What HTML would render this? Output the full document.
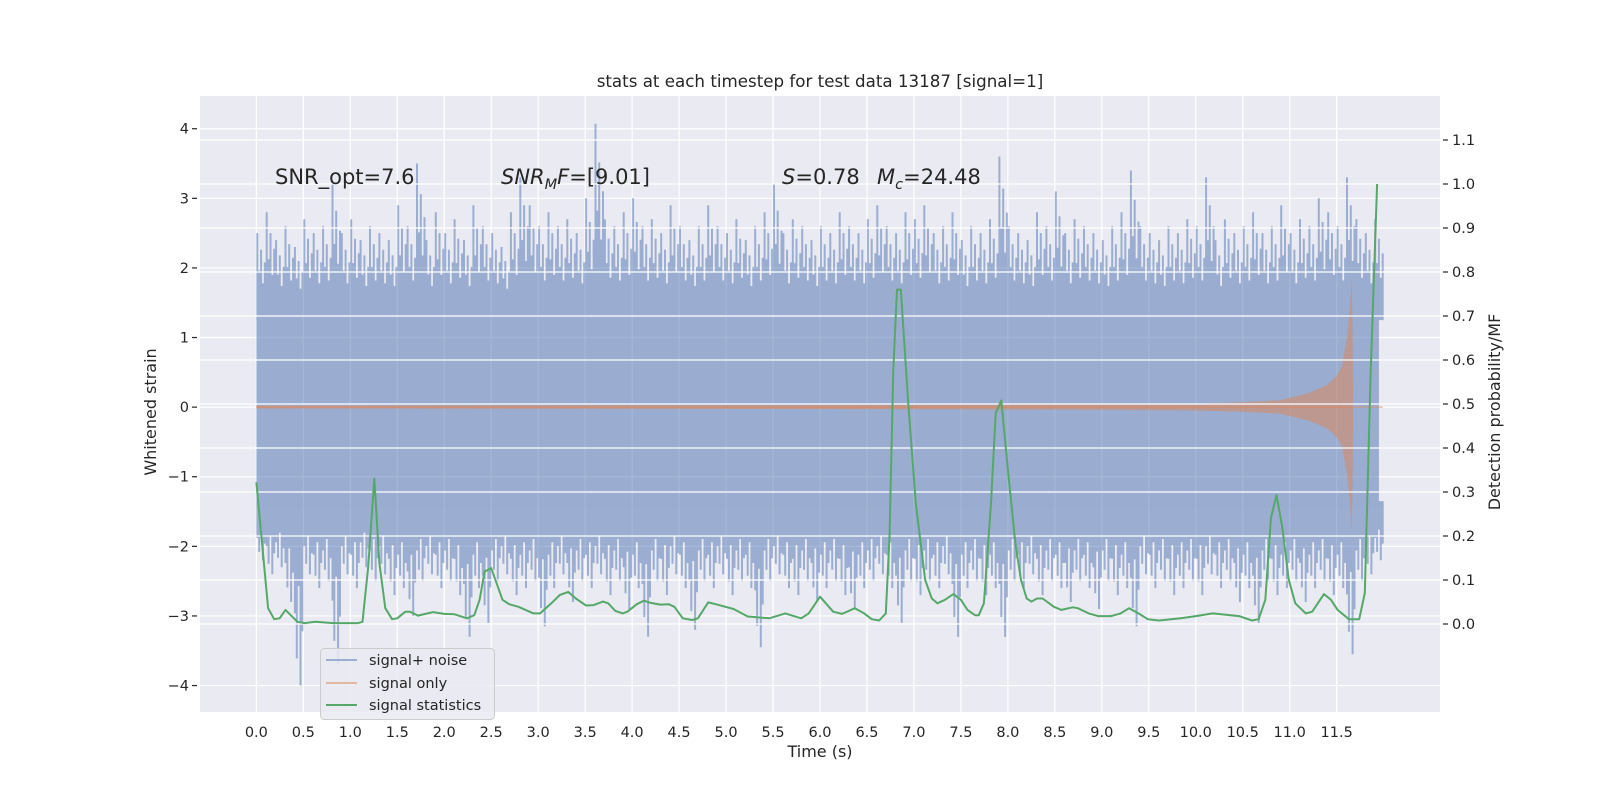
<!DOCTYPE html>
<html><head><meta charset="utf-8"><style>
body{margin:0;background:#fff;}
svg{display:block;font-family:"DejaVu Sans","Liberation Sans",sans-serif;}
</style></head><body>
<svg id="chart" width="1600" height="800" viewBox="0 0 1600 800" xmlns="http://www.w3.org/2000/svg">
<rect width="1600" height="800" fill="#ffffff"/>
<rect x="200" y="96" width="1240" height="616" fill="#eaeaf2"/>
<g id="gridL"></g>
<g id="noise" opacity="0.5"></g>
<g id="chirp"></g>
<g id="gridR"></g>
<g id="stats"></g>
<g id="axes"></g>
<text x="820" y="87" font-size="16.7" text-anchor="middle" fill="#262626">stats at each timestep for test data 13187 [signal=1]</text>
<text x="275" y="184" font-size="21" fill="#262626">SNR_opt=7.6</text>
<text x="501" y="184" font-size="21" fill="#262626"><tspan font-style="italic">SNR</tspan><tspan font-style="italic" font-size="14.5" dy="5">M</tspan><tspan font-style="italic" dy="-5">F</tspan>=[9.01]</text>
<text x="782" y="184" font-size="21" fill="#262626"><tspan font-style="italic">S</tspan>=0.78<tspan x="877" font-style="italic">M</tspan><tspan font-style="italic" font-size="14.5" dy="5">c</tspan><tspan dy="-5">=24.48</tspan></text>
<text x="820" y="757" font-size="16" text-anchor="middle" fill="#262626">Time (s)</text>
<text transform="translate(156,412) rotate(-90)" font-size="16" text-anchor="middle" fill="#262626">Whitened strain</text>
<text transform="translate(1500,412) rotate(-90)" font-size="16" text-anchor="middle" fill="#262626">Detection probability/MF</text>
<g>
<rect x="320.5" y="648.5" width="174" height="71" rx="4" fill="#eaeaf2" fill-opacity="0.85" stroke="#cccccc"/>
<line x1="326" y1="660" x2="357" y2="660" stroke="#4c72b0" stroke-opacity="0.5" stroke-width="2"/>
<text x="369" y="665" font-size="14.5" fill="#262626">signal+ noise</text>
<line x1="326" y1="683" x2="357" y2="683" stroke="#dd8452" stroke-opacity="0.5" stroke-width="2"/>
<text x="369" y="688" font-size="14.5" fill="#262626">signal only</text>
<line x1="326" y1="705" x2="357" y2="705" stroke="#55a868" stroke-width="2"/>
<text x="369" y="710" font-size="14.5" fill="#262626">signal statistics</text>
</g>
</svg>
<script>
const xTicks = [0,0.5,1,1.5,2,2.5,3,3.5,4,4.5,5,5.5,6,6.5,7,7.5,8,8.5,9,9.5,10,10.5,11,11.5];
const yLeftTicks = [-4,-3,-2,-1,0,1,2,3,4];
const yRightTicks = [0,0.1,0.2,0.3,0.4,0.5,0.6,0.7,0.8,0.9,1.0,1.1];
const noiseBinWidth = 0.1;
const noiseUpper = [2.5,2.8,2.4,2.6,2.3,2.7,2.5,2.6,3.2,2.5, 2.7,2.4,2.6,2.5,2.4,2.9,2.6,3.5,2.4,2.8, 2.5,2.7,2.4,2.9,2.6,2.5,2.3,2.8,3.3,2.9, 2.6,2.8,2.6,2.7,2.5,3.0,4.07,2.7,2.6,2.8, 3.0,2.6,2.7,2.5,2.9,2.6,2.4,2.6,2.9,2.6, 2.5,2.7,2.4,2.6,2.8,3.2,2.5,2.7,2.6,2.4, 2.6,2.5,2.8,2.6,2.5,2.7,2.9,2.6,2.5,2.8, 2.7,2.9,2.5,2.6,2.8,2.4,2.6,2.5,2.7,3.6, 2.6,2.5,2.4,2.8,2.6,3.1,2.5,2.7,2.6,2.5, 2.4,2.6,2.8,3.4,2.6,2.5,2.4,2.6,2.5,2.7, 2.6,3.3,2.4,2.7,2.5,2.6,2.8,2.5,2.6,2.9, 2.5,2.7,2.6,3.0,2.8,2.6,3.3,2.7,2.5,2.7];
const noiseLower = [-2.2,-2.4,-2.3,-2.8,-4.0,-2.4,-2.6,-2.5,-3.7,-2.4, -2.6,-2.3,-2.5,-2.4,-2.7,-2.6,-3.0,-2.5,-2.4,-2.6, -2.5,-2.7,-3.3,-2.6,-3.1,-2.5,-2.4,-2.7,-2.6,-2.5, -3.15,-2.6,-2.4,-2.8,-2.5,-2.6,-2.4,-2.7,-2.5,-2.9, -2.6,-3.3,-2.5,-2.7,-2.4,-2.6,-3.2,-2.5,-2.6,-2.4, -2.7,-2.5,-2.6,-3.45,-2.5,-2.4,-2.6,-2.7,-2.5,-2.8, -2.6,-2.5,-2.7,-2.9,-2.6,-2.5,-2.4,-2.6,-3.1,-2.5, -2.7,-2.5,-2.6,-2.4,-3.3,-2.6,-2.5,-2.7,-2.6,-3.3, -2.5,-2.6,-2.4,-2.7,-2.5,-2.6,-2.8,-2.5,-2.6,-2.9, -2.5,-2.7,-2.6,-3.15,-2.4,-2.6,-2.5,-2.7,-2.6,-2.5, -2.7,-2.4,-2.6,-2.5,-2.8,-2.6,-3.1,-2.5,-2.7,-2.6, -2.5,-2.8,-2.6,-2.5,-2.7,-2.6,-3.55,-2.5,-2.4,-2.2];
const noiseCoreHi = 1.3;
const noiseCoreLo = -1.4;
const chirpT = [0,3,6,8,9,10,10.5,10.9,11.2,11.4,11.5,11.56,11.61,11.64,11.66,11.67,11.675];
const chirpAmp = [0.02,0.025,0.03,0.035,0.04,0.05,0.07,0.1,0.2,0.32,0.45,0.6,1.0,1.4,1.85,1.2,0];
const statsT = [0,0.125,0.19,0.247,0.31,0.437,0.513,0.627,0.817,1.084,1.13,1.19,1.255,1.31,1.373,1.445,1.5,1.585,1.635,1.72,1.88,2.0,2.11,2.24,2.32,2.376,2.43,2.5,2.57,2.62,2.69,2.79,2.95,3.02,3.14,3.23,3.32,3.4,3.51,3.59,3.69,3.745,3.82,3.9,3.95,4.05,4.125,4.2,4.3,4.39,4.45,4.54,4.64,4.7,4.81,4.89,5.08,5.23,5.46,5.63,5.8,5.88,6.0,6.14,6.235,6.37,6.47,6.55,6.63,6.7,6.74,6.78,6.82,6.86,6.94,7.02,7.12,7.19,7.25,7.33,7.42,7.5,7.57,7.65,7.69,7.745,7.82,7.87,7.93,8.0,8.08,8.14,8.2,8.25,8.31,8.37,8.49,8.57,8.69,8.745,8.86,8.96,9.1,9.2,9.29,9.39,9.49,9.61,9.84,10.0,10.18,10.46,10.6,10.67,10.74,10.8,10.86,10.92,10.99,11.06,11.17,11.24,11.365,11.44,11.51,11.63,11.74,11.8,11.86,11.93];
const statsP = [0.322,0.036,0.011,0.013,0.032,0.005,0.002,0.005,0.002,0.002,0.005,0.13,0.331,0.138,0.036,0.011,0.013,0.028,0.028,0.019,0.027,0.023,0.022,0.013,0.02,0.055,0.119,0.127,0.085,0.055,0.045,0.039,0.024,0.024,0.047,0.066,0.073,0.058,0.042,0.043,0.051,0.047,0.03,0.024,0.028,0.045,0.053,0.048,0.044,0.045,0.039,0.013,0.009,0.013,0.049,0.045,0.034,0.017,0.013,0.024,0.013,0.024,0.062,0.028,0.023,0.036,0.024,0.011,0.008,0.024,0.198,0.577,0.76,0.76,0.5,0.274,0.1,0.058,0.047,0.055,0.068,0.055,0.032,0.02,0.02,0.047,0.274,0.479,0.508,0.35,0.183,0.1,0.058,0.051,0.058,0.058,0.039,0.032,0.038,0.036,0.024,0.018,0.018,0.024,0.036,0.024,0.011,0.008,0.013,0.018,0.024,0.018,0.008,0.011,0.055,0.24,0.293,0.221,0.1,0.047,0.024,0.028,0.068,0.055,0.032,0.011,0.011,0.07,0.56,1.0];

const NS='http://www.w3.org/2000/svg';
const AX={l:200,r:1440,t:96,b:712};
const xMin=-0.6, xMax=12.6, yLMin=-4.38, yLMax=4.47, yRMin=-0.2, yRMax=1.2;
function X(t){return AX.l+(t-xMin)/(xMax-xMin)*(AX.r-AX.l);}
function YL(v){return AX.t+(yLMax-v)/(yLMax-yLMin)*(AX.b-AX.t);}
function YR(p){return AX.t+(yRMax-p)/(yRMax-yRMin)*(AX.b-AX.t);}
function mk(tag,attrs,parent){const e=document.createElementNS(NS,tag);for(const k in attrs)e.setAttribute(k,attrs[k]);parent.appendChild(e);return e;}
const gL=document.getElementById('gridL'),gR=document.getElementById('gridR'),gN=document.getElementById('noise'),gC=document.getElementById('chirp'),gS=document.getElementById('stats'),gA=document.getElementById('axes');

xTicks.forEach(t=>{
  const l=mk('line',{x1:X(t),x2:X(t),y1:AX.t,y2:AX.b,stroke:'#ffffff','stroke-width':1.2},gL);
  
  
  const tx=mk('text',{x:X(t),y:737,'font-size':14.5,'text-anchor':'middle',fill:'#262626'},gA);
  tx.textContent=t.toFixed(1);
  
  
});
yLeftTicks.forEach(v=>{
  const l=mk('line',{x1:AX.l,x2:AX.r,y1:YL(v),y2:YL(v),stroke:'#ffffff','stroke-width':1.2},gL);
  
  
  const tk=mk('line',{x1:AX.l-8,x2:AX.l-3,y1:YL(v),y2:YL(v),stroke:'#262626','stroke-width':1.2},gA);
  
  
  const tx=mk('text',{x:AX.l-11,y:YL(v)+5,'font-size':14.5,'text-anchor':'end',fill:'#262626'},gA);
  tx.textContent=v<0?'\u2212'+Math.abs(v):String(v);
  
  
});
yRightTicks.forEach(p=>{
  const l=mk('line',{x1:AX.l,x2:AX.r,y1:YR(p),y2:YR(p),stroke:'#ffffff','stroke-width':1.2},gR);
  
  
  const tk=mk('line',{x1:AX.r+3,x2:AX.r+8,y1:YR(p),y2:YR(p),stroke:'#262626','stroke-width':1.2},gA);
  
  
  const tx=mk('text',{x:AX.r+12,y:YR(p)+5,'font-size':14.5,fill:'#262626'},gA);
  tx.textContent=p.toFixed(1);
  
  
});

const tEnd=noiseUpper.length*noiseBinWidth-0.05;
const d='M'+X(0)+','+YL(noiseCoreHi)+' L'+X(tEnd)+','+YL(noiseCoreHi)+' L'+X(tEnd)+','+YL(noiseCoreLo)+' L'+X(0)+','+YL(noiseCoreLo)+' Z';
const core=mk('path',{d:d,fill:'#4c72b0'},gN);


const upFrac=[1,0.55,0.8,0.4,0.65];
const loFrac=[0.6,0.85,0.45,1,0.7];
let sd='';
noiseUpper.forEach((u,i)=>{
  const lo=noiseLower[i];
  for(let k=0;k<5;k++){
    const t=i*noiseBinWidth+0.01+k*0.02;
    const xs=X(t).toFixed(1);
    const uh=noiseCoreHi+(u-noiseCoreHi)*upFrac[k];
    const lh=noiseCoreLo+(lo-noiseCoreLo)*loFrac[k];
    sd+='M'+xs+','+YL(uh).toFixed(1)+' L'+xs+','+YL(noiseCoreHi-0.05).toFixed(1)+' ';
    sd+='M'+xs+','+YL(lh).toFixed(1)+' L'+xs+','+YL(noiseCoreLo+0.05).toFixed(1)+' ';
  }
});
const spikes=mk('path',{d:sd,stroke:'#4c72b0','stroke-width':2.0,fill:'none'},gN);



let cd='M'+X(chirpT[0])+','+YL(chirpAmp[0]);
chirpT.forEach((t,i)=>{cd+=' L'+X(t).toFixed(1)+','+YL(chirpAmp[i]).toFixed(1);});
for(let i=chirpT.length-1;i>=0;i--){cd+=' L'+X(chirpT[i]).toFixed(1)+','+YL(-chirpAmp[i]*0.96).toFixed(1);}
cd+=' Z';
const ch=mk('path',{d:cd,fill:'#dd8452','fill-opacity':0.5},gC);


const zl=mk('line',{x1:X(0),x2:X(11.99),y1:YL(0),y2:YL(0),stroke:'#dd8452','stroke-opacity':0.5,'stroke-width':1.5},gC);



const pts=statsT.map((t,i)=>X(t).toFixed(1)+','+YR(statsP[i]).toFixed(1)).join(' ');
const sl=mk('polyline',{points:pts,fill:'none',stroke:'#55a868','stroke-width':2,'stroke-linejoin':'round'},gS);


</script>
</body></html>
